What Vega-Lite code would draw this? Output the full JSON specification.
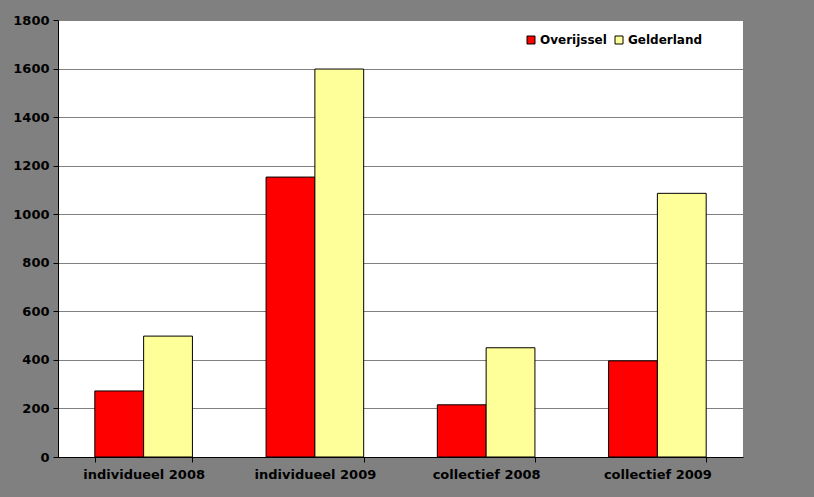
{
  "$schema": "https://vega.github.io/schema/vega-lite/v6.json",
  "width": 685,
  "height": 437,
  "autosize": {"type": "none"},
  "padding": {"left": 58, "top": 20, "right": 71, "bottom": 40},
  "background": "#808080",
  "config": {
    "view": {"fill": "white", "stroke": null},
    "font": "DejaVu Sans"
  },
  "data": {
    "values": [
      {"categorie": "individueel 2008", "provincie": "Overijssel", "aantal": 272},
      {"categorie": "individueel 2008", "provincie": "Gelderland", "aantal": 498},
      {"categorie": "individueel 2009", "provincie": "Overijssel", "aantal": 1153},
      {"categorie": "individueel 2009", "provincie": "Gelderland", "aantal": 1598},
      {"categorie": "collectief 2008", "provincie": "Overijssel", "aantal": 215},
      {"categorie": "collectief 2008", "provincie": "Gelderland", "aantal": 450},
      {"categorie": "collectief 2009", "provincie": "Overijssel", "aantal": 396},
      {"categorie": "collectief 2009", "provincie": "Gelderland", "aantal": 1086}
    ]
  },
  "mark": {"type": "bar", "stroke": "black", "strokeWidth": 1},
  "encoding": {
    "x": {
      "field": "categorie",
      "type": "nominal",
      "sort": null,
      "title": null,
      "scale": {"paddingInner": 0.43, "paddingOuter": 0.215},
      "axis": {
        "labelAngle": 0,
        "labelFont": "DejaVu Sans",
        "labelFontWeight": "bold",
        "labelFontSize": 13,
        "labelColor": "black",
        "labelPadding": 6,
        "domainColor": "black",
        "tickColor": "black",
        "tickSize": 5,
        "tickBand": "extent",
        "grid": false
      }
    },
    "xOffset": {"field": "provincie", "type": "nominal", "sort": ["Overijssel", "Gelderland"]},
    "y": {
      "field": "aantal",
      "type": "quantitative",
      "title": null,
      "scale": {"domain": [0, 1800], "nice": false},
      "axis": {
        "values": [0, 200, 400, 600, 800, 1000, 1200, 1400, 1600, 1800],
        "format": "d",
        "labelFont": "DejaVu Sans",
        "labelFontWeight": "bold",
        "labelFontSize": 13,
        "labelColor": "black",
        "labelPadding": 4,
        "domainColor": "black",
        "tickColor": "black",
        "tickSize": 5,
        "gridColor": "#808080",
        "gridOpacity": 1
      }
    },
    "color": {
      "field": "provincie",
      "type": "nominal",
      "sort": ["Overijssel", "Gelderland"],
      "scale": {"domain": ["Overijssel", "Gelderland"], "range": ["#FF0000", "#FFFF99"]},
      "legend": {
        "title": null,
        "orient": "none",
        "legendX": 467,
        "legendY": 14,
        "direction": "horizontal",
        "symbolType": "square",
        "symbolSize": 64,
        "symbolStrokeColor": "black",
        "symbolStrokeWidth": 1,
        "labelFont": "DejaVu Sans",
        "labelFontWeight": "bold",
        "labelFontSize": 12,
        "labelColor": "black",
        "labelOffset": 3,
        "columnPadding": 6
      }
    }
  }
}
